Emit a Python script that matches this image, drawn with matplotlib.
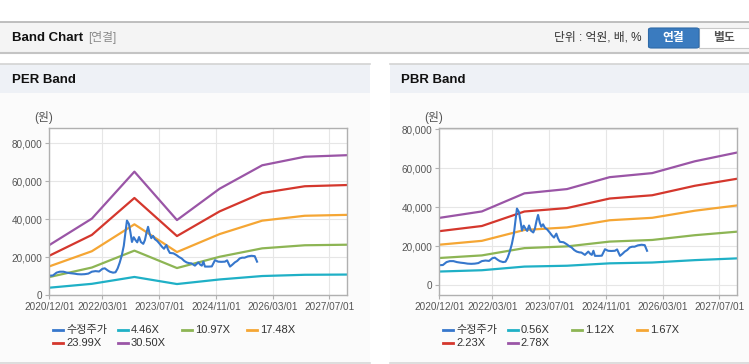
import matplotlib
matplotlib.use('Agg')
import pandas as pd
import matplotlib.pyplot as plt
from matplotlib.patches import Rectangle, FancyBboxPatch
from matplotlib.lines import Line2D
from matplotlib.ticker import FuncFormatter
import matplotlib.dates as mdates

plt.rcParams['font.family'] = ['Liberation Sans', 'Noto Sans CJK KR', 'DejaVu Sans']

# adjusted price (same series on both charts)
price_dates = [
    '2020-12-01', '2021-01-01', '2021-02-01', '2021-03-01', '2021-04-01', '2021-05-01',
    '2021-06-01', '2021-07-01', '2021-08-01', '2021-09-01', '2021-10-01', '2021-11-01',
    '2021-12-01', '2022-01-01', '2022-02-01', '2022-03-01', '2022-03-22', '2022-04-15',
    '2022-05-04', '2022-06-01', '2022-06-22', '2022-07-10', '2022-07-28', '2022-08-15',
    '2022-09-01', '2022-09-15', '2022-09-28', '2022-10-15', '2022-10-28', '2022-11-10',
    '2022-11-25', '2022-12-10', '2022-12-25', '2023-01-10', '2023-01-25', '2023-02-15',
    '2023-03-01', '2023-03-15', '2023-03-28', '2023-04-12', '2023-04-25', '2023-05-10',
    '2023-05-25', '2023-06-15', '2023-07-06', '2023-07-25', '2023-08-12', '2023-09-01',
    '2023-09-15', '2023-10-01', '2023-11-01', '2023-11-28', '2023-12-20', '2024-01-10',
    '2024-02-01', '2024-02-22', '2024-03-15', '2024-04-03', '2024-05-03', '2024-06-01',
    '2024-06-18', '2024-07-01', '2024-07-15', '2024-07-28', '2024-09-01', '2024-09-25',
    '2024-10-22', '2024-11-18', '2024-12-15', '2025-01-15', '2025-02-03', '2025-02-28',
    '2025-03-20', '2025-04-10', '2025-05-01', '2025-05-22', '2025-06-12', '2025-07-03',
    '2025-08-01', '2025-09-01', '2025-09-28', '2025-10-18']
price_values = [
    10200, 10300, 11800, 12300, 12300, 11800,
    11500, 11300, 11000, 10900, 11000, 11300,
    12300, 12600, 12400, 13800, 14100, 13000,
    12300, 11800, 12000, 14000, 17100, 21000,
    26000, 33000, 39300, 37500, 33000, 28000,
    30500, 29000, 27800, 30600, 28000, 27000,
    29000, 33000, 36000, 32000, 30000, 31200,
    29500, 28500, 27000, 25500, 24400, 26400,
    24000, 22200, 22000, 21000, 20000, 19300,
    18000, 17200, 16800, 16700, 15500, 17200,
    16000, 15500, 17600, 15000, 15000, 15100,
    18400, 17600, 17500, 17600, 18300, 15000,
    16000, 17200, 18000, 19300, 19700, 19700,
    20400, 20700, 20500, 17600]

# yearly EPS / BPS used for the bands
band_dates = ['2020-12-01', '2021-12-01', '2022-12-01', '2023-12-01',
              '2024-12-01', '2025-12-01', '2026-12-01', '2027-12-01']
eps = [864, 1322, 2135, 1297, 1840, 2245, 2393, 2420]
bps = [12410, 13600, 16940, 17730, 19930, 20680, 22860, 24490]
per_multiples = [4.46, 10.97, 17.48, 23.99, 30.50]
pbr_multiples = [0.56, 1.12, 1.67, 2.23, 2.78]

price_label = '수정주가'
band_colors = ['#1fb0c6', '#8db554', '#f5a634', '#d4372d', '#9a55a6']
price_color = '#3677cc'
xtick_dates = ['2020-12-01', '2022-03-01', '2023-07-01', '2024-11-01', '2026-03-01', '2027-07-01']
ytick_values = [0, 20000, 40000, 60000, 80000]

W, H = 749, 364
fig = plt.figure(figsize=(W / 100, H / 100), dpi=100)
fig.patch.set_facecolor('white')


def box(x, y, w, h, **kw):
    # pixel box, y measured from top
    r = Rectangle((x / W, 1 - (y + h) / H), w / W, h / H, transform=fig.transFigure,
                  zorder=-10, **kw)
    fig.patches.append(r)
    return r


def hline(x0, x1, y, color, lw=1):
    fig.add_artist(Line2D([x0 / W, x1 / W], [1 - y / H, 1 - y / H], color=color, lw=lw,
                          transform=fig.transFigure, zorder=-5))


def text(x, y, s, **kw):
    fig.text(x / W, 1 - y / H, s, va='center', **kw)


# header bar
box(0, 22, W, 31, facecolor='#f4f4f4', edgecolor='none')
hline(0, W, 22, '#b4b4b4', 1.2)
hline(0, W, 53, '#c4c4c4', 1.5)
text(12, 38, 'Band Chart', fontsize=9.5, fontweight='bold', color='#111111')
text(88, 38, '[연결]', fontsize=8.5, color='#8a8a8a')
text(641, 38, '단위 : 억원, 배, %', fontsize=8.5, color='#333333', ha='right')
btn = FancyBboxPatch((648.5 / W, 1 - 48 / H), 50.5 / W, 20 / H,
                     boxstyle='round,pad=0,rounding_size=0.004', transform=fig.transFigure,
                     facecolor='#3a7bbf', edgecolor='#2f6aa8', lw=0.8, zorder=-4)
fig.patches.append(btn)
box(699, 28, 52, 20, facecolor='white', edgecolor='#c8c8c8', lw=0.8)
text(673.5, 38, '연결', fontsize=8.5, fontweight='bold', color='white', ha='center')
text(724, 38, '별도', fontsize=8.5, fontweight='bold', color='#555555', ha='center')

# panels
for px0, px1, title, tx in [(0, 370, 'PER Band', 12), (390, 749, 'PBR Band', 401)]:
    box(px0, 64, px1 - px0, 29, facecolor='#eef1f6', edgecolor='none')
    box(px0, 93, px1 - px0, 270, facecolor='#fbfbfb', edgecolor='none')
    hline(px0, px1, 64, '#d3d3d3', 1.2)
    hline(px0, px1, 363, '#d8d8d8', 1.2)
    text(tx, 80, title, fontsize=9.5, fontweight='bold', color='#111111')

band_x = pd.to_datetime(band_dates)
price_x = pd.to_datetime(price_dates)
ticks_x = pd.to_datetime(xtick_dates)


def draw_chart(left_px, ylim, base, multiples, legend_x, unit_x):
    ax = fig.add_axes([left_px / W, (H - 295) / H, 298 / W, 166.7 / H])
    ax.set_zorder(5)
    ax.set_facecolor('white')
    for m, c in zip(multiples, band_colors):
        ax.plot(band_x, [m * v for v in base], color=c, lw=1.6)
    ax.plot(price_x, price_values, color=price_color, lw=1.5)
    ax.set_xlim(pd.Timestamp('2020-12-01'), pd.Timestamp('2027-12-01'))
    ax.set_ylim(*ylim)
    ax.set_xticks(ticks_x)
    ax.xaxis.set_major_formatter(mdates.DateFormatter('%Y/%m/%d'))
    ax.set_yticks(ytick_values)
    ax.yaxis.set_major_formatter(FuncFormatter(lambda v, p: f'{int(v):,}'))
    ax.grid(True, color='#e6e6e6', lw=0.8)
    ax.set_axisbelow(True)
    for sp in ax.spines.values():
        sp.set_color('#b0b0b0')
        sp.set_linewidth(1.0)
    ax.tick_params(axis='both', colors='#b0b0b0', labelcolor='#555555', labelsize=7.2,
                   length=3, width=0.8, pad=2)

    text(unit_x, 117, '(원)', fontsize=8.5, color='#555555', ha='center')

    labels = [price_label] + [f'{m:.2f}X' for m in multiples]
    colors = [price_color] + band_colors
    for i, (lab, col) in enumerate(zip(labels, colors)):
        row, colno = divmod(i, 4)
        lx = legend_x + colno * 64.7
        ly = 330 + row * 13
        fig.add_artist(Line2D([lx / W, (lx + 10) / W], [1 - ly / H, 1 - ly / H],
                              color=col, lw=2, transform=fig.transFigure))
        text(lx + 13, ly, lab, fontsize=8, color='#333333')
    return ax


draw_chart(49.3, (0, 88000), eps, per_multiples, 53, 44)
draw_chart(439.3, (-5100, 80500), bps, pbr_multiples, 443, 434)

fig.savefig('out.png', dpi=100, facecolor=fig.get_facecolor())
